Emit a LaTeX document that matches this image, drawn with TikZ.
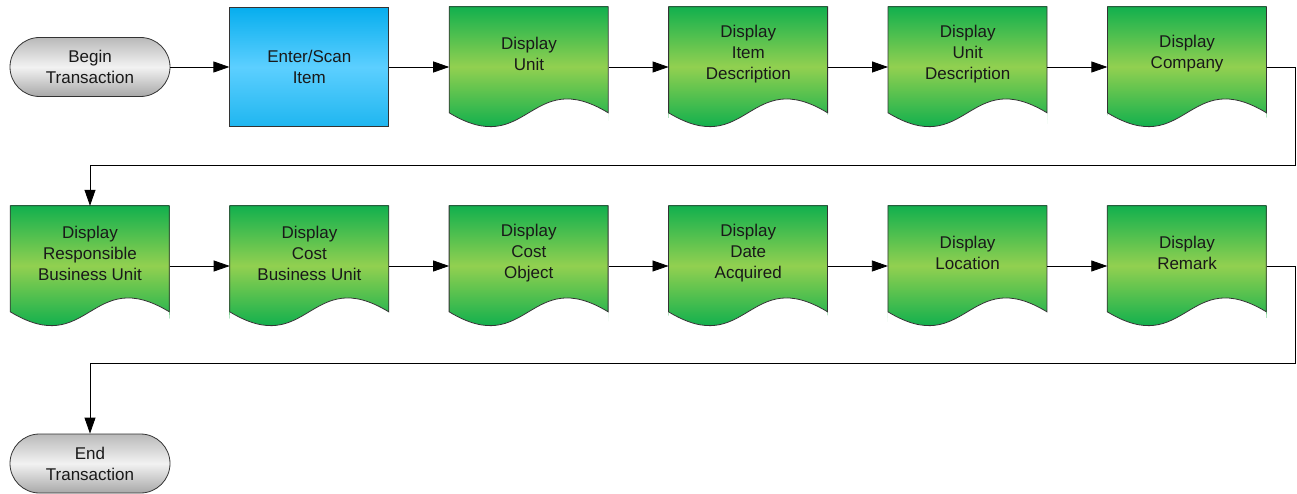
\documentclass[tikz,border=0pt]{standalone}
\usepackage{fontspec}
\setmainfont{Liberation Sans}
\usepackage{tikz}
\usepackage{xcolor}
\usetikzlibrary{positioning,shapes.misc,arrows.meta}
\definecolor{docgreen}{HTML}{12B04E}
\definecolor{doclime}{HTML}{92D050}
\definecolor{scanblue}{HTML}{07AEEE}
\definecolor{scanlight}{HTML}{5CCFFF}
\definecolor{termgray}{HTML}{A8A8A8}
\definecolor{boxline}{HTML}{333333}
\pgfdeclarelayer{background}
\pgfsetlayers{background,main}
\tikzset{
    box-text/.style = {font=\fontsize{17pt}{21pt}\selectfont, text=black!90, align=center},
    terminal-box/.style = {draw=boxline, line width=0.8pt, rounded rectangle, minimum width=160pt, minimum height=59pt, inner sep=0pt, top color=termgray!80, bottom color=termgray, middle color=white!95!black, box-text},
    process-box/.style = {draw=boxline, line width=0.8pt, rectangle, minimum width=159pt, minimum height=119pt, inner sep=0pt, top color=scanblue, bottom color=scanblue!90!white, middle color=scanlight, box-text},
    document-box/.style = {rectangle, minimum width=159pt, minimum height=120pt, inner sep=0pt,
        label={[box-text, yshift=13pt]center:#1}},
    doc-fill/.style = {top color=docgreen, bottom color=docgreen, middle color=doclime},
    doc-edge/.style = {draw=boxline, line width=0.8pt},
    flow-arrow/.style = {draw=black, line width=0.8pt, -{Triangle[length=16pt,width=11pt]}},
}
\begin{document}
\begin{tikzpicture}[x=1pt, y=1pt, node distance=60pt]
\useasboundingbox (0,0) rectangle (1297,-494);

% first row
\node[terminal-box] (begin) at (90,-67) {Begin\\Transaction};
\node[process-box, right=59pt of begin] (scan) {Enter/Scan\\Item};
\node[document-box={Display\\Unit}, right=of scan] (unit) {};
\node[document-box={Display\\Item\\Description}, right=of unit] (item) {};
\node[document-box={Display\\Unit\\Description}, right=of item] (unitdesc) {};
\node[document-box={Display\\Company}, right=of unitdesc] (company) {};

% second row
\node[document-box={Display\\Responsible\\Business Unit}] (resp) at (90,-266) {};
\node[document-box={Display\\Cost\\Business Unit}, right=of resp] (costbu) {};
\node[document-box={Display\\Cost\\Object}, right=of costbu] (costobj) {};
\node[document-box={Display\\Date\\Acquired}, right=of costobj] (date) {};
\node[document-box={Display\\Location}, right=of date] (location) {};
\node[document-box={Display\\Remark}, right=of location] (remark) {};

\node[terminal-box] (end) at (90,-463.5) {End\\Transaction};

% document shapes with the wavy bottom
\begin{pgfonlayer}{background}
\foreach \n in {unit, item, unitdesc, company, resp, costbu, costobj, date, location, remark} {
    \begin{scope}[shift={(\n.north west)}, y=-1pt]
        \shade[doc-fill] (0,0) rectangle (159,120);
        \fill[white] (0,106) .. controls (79,154) and (80,58) .. (159,106) -- (160,121) -- (-1,121) -- cycle;
        \draw[doc-edge] (0,106) -- (0,0) -- (159,0) -- (159,106) .. controls (80,58) and (79,154) .. cycle;
    \end{scope}
}
\end{pgfonlayer}

\foreach \a/\b in {begin/scan, scan/unit, unit/item, item/unitdesc, unitdesc/company,
                   resp/costbu, costbu/costobj, costobj/date, date/location, location/remark}
    \draw[flow-arrow] (\a.east) -- (\b.west);

% wrap-around lines
\draw[flow-arrow] (company.east) -- ++(29,0) |- ([yshift=40pt]resp.north) -- (resp.north);
\draw[flow-arrow] (remark.east) -- ++(29,0) |- ([yshift=70pt]end.north) -- (end.north);
\end{tikzpicture}
\end{document}
